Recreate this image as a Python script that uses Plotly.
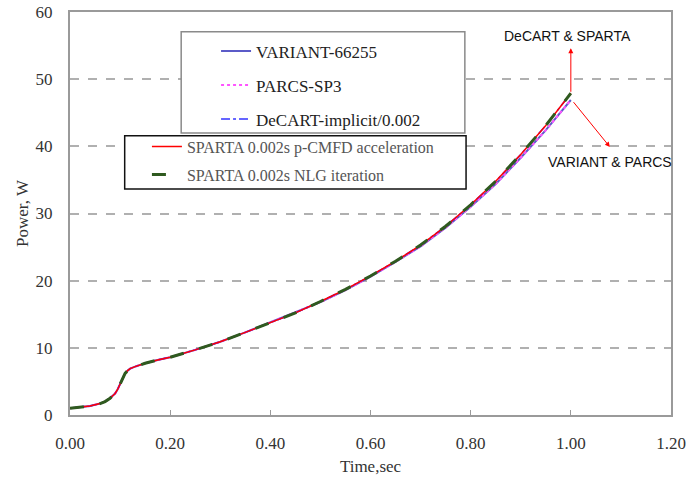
import plotly.graph_objects as go

time_s = [0, 0.02, 0.04, 0.06, 0.07, 0.08, 0.09, 0.095, 0.10, 0.105, 0.11, 0.115,
          0.12, 0.13, 0.15, 0.175, 0.2, 0.25, 0.3, 0.35, 0.4, 0.45, 0.5, 0.55,
          0.6, 0.65, 0.7, 0.75, 0.8, 0.85, 0.9, 0.95, 1.0]

variant = [1.0, 1.15, 1.35, 1.7, 2.0, 2.5, 3.2, 3.8, 4.6, 5.5, 6.2, 6.6,
           6.9, 7.2, 7.7, 8.2, 8.6, 9.7, 10.9, 12.3, 13.8, 15.2, 16.8, 18.6,
           20.6, 22.8, 25.1, 27.9, 31.0, 34.4, 38.3, 42.4, 46.9]
parcs = [1.0, 1.15, 1.35, 1.7, 2.0, 2.5, 3.2, 3.8, 4.6, 5.5, 6.2, 6.6,
         6.9, 7.2, 7.7, 8.2, 8.6, 9.7, 10.9, 12.3, 13.8, 15.2, 16.8, 18.6,
         20.6, 22.8, 25.1, 27.9, 31.0, 34.4, 38.3, 42.4, 46.9]
decart = [1.0, 1.15, 1.35, 1.7, 2.0, 2.5, 3.2, 3.8, 4.6, 5.5, 6.2, 6.6,
          6.9, 7.2, 7.7, 8.2, 8.6, 9.7, 10.9, 12.3, 13.8, 15.2, 16.9, 18.7,
          20.7, 22.9, 25.3, 28.1, 31.3, 34.8, 38.8, 43.1, 47.9]
sparta_cmfd = [1.0, 1.15, 1.35, 1.7, 2.0, 2.5, 3.2, 3.8, 4.6, 5.5, 6.2, 6.6,
               6.9, 7.2, 7.7, 8.2, 8.6, 9.7, 10.9, 12.3, 13.8, 15.2, 16.9, 18.7,
               20.7, 22.9, 25.3, 28.1, 31.3, 34.8, 38.8, 43.1, 47.9]
sparta_nlg = [1.0, 1.15, 1.35, 1.7, 2.0, 2.5, 3.2, 3.8, 4.6, 5.5, 6.2, 6.6,
              6.9, 7.2, 7.7, 8.2, 8.6, 9.7, 10.9, 12.3, 13.8, 15.2, 16.9, 18.7,
              20.7, 22.9, 25.3, 28.1, 31.3, 34.8, 38.8, 43.1, 47.9]

x_ticks = [0, 0.2, 0.4, 0.6, 0.8, 1.0, 1.2]
x_tick_labels = ["0.00", "0.20", "0.40", "0.60", "0.80", "1.00", "1.20"]
y_ticks = [0, 10, 20, 30, 40, 50, 60]

SERIF = "Liberation Serif, Times New Roman, serif"
SANS = "Liberation Sans, Arial, sans-serif"

fig = go.Figure()
fig.add_trace(go.Scatter(x=time_s, y=variant, mode="lines", name="VARIANT-66255",
                         line=dict(color="#5b5bc8", width=2), legend="legend",
                         legendgroup="a", legendrank=1))
fig.add_trace(go.Scatter(x=time_s, y=parcs, mode="lines", name="PARCS-SP3",
                         line=dict(color="#ff55ff", width=2, dash="dot"), legend="legend",
                         legendgroup="b", legendrank=2))
fig.add_trace(go.Scatter(x=time_s, y=decart, mode="lines", name="DeCART-implicit/0.002",
                         line=dict(color="#3333ff", width=1.5, dash="dashdot"), legend="legend",
                         legendgroup="c", legendrank=3))
fig.add_trace(go.Scatter(x=time_s, y=sparta_cmfd, mode="lines",
                         name="SPARTA 0.002s p-CMFD acceleration",
                         line=dict(color="#ff0000", width=1.5), legend="legend2",
                         legendgroup="d", legendrank=4))
fig.add_trace(go.Scatter(x=time_s, y=sparta_nlg, mode="lines",
                         name="SPARTA 0.002s NLG iteration",
                         line=dict(color="#2f5a1f", width=3, dash="14px,16px"), legend="legend2",
                         legendgroup="e", legendrank=5))

# legend boxes
fig.add_shape(type="rect", xref="paper", yref="paper", x0=0.185, x1=0.657, y0=0.700, y1=0.951,
              line=dict(color="#8a8a8a", width=1.5), fillcolor="white", layer="above")
fig.add_shape(type="rect", xref="paper", yref="paper", x0=0.091, x1=0.659, y0=0.561, y1=0.693,
              line=dict(color="#111111", width=1.5), fillcolor="white", layer="above")

# arrows
fig.add_annotation(x=1.0, y=54.6, ax=1.0, ay=47.9, axref="x", ayref="y", xref="x", yref="y",
                   text="", showarrow=True, arrowhead=2, arrowsize=1, arrowwidth=1,
                   arrowcolor="#ff0000", standoff=0, startstandoff=0)
fig.add_annotation(x=1.078, y=39.9, ax=1.003, ay=46.8, axref="x", ayref="y", xref="x", yref="y",
                   text="", showarrow=True, arrowhead=2, arrowsize=1, arrowwidth=1,
                   arrowcolor="#ff0000", standoff=0, startstandoff=0)
fig.add_annotation(x=0.994, y=56.5, xref="x", yref="y", text="DeCART &amp; SPARTA",
                   showarrow=False, font=dict(family=SANS, size=14, color="#111111"))
fig.add_annotation(x=1.078, y=37.6, xref="x", yref="y", text="VARIANT &amp; PARCS",
                   showarrow=False, font=dict(family=SANS, size=14, color="#111111"))

fig.update_layout(
    width=700, height=482,
    margin=dict(l=70, r=29, t=12, b=67, autoexpand=False),
    paper_bgcolor="white", plot_bgcolor="white",
    font=dict(family=SERIF, size=17, color="#333333"),
    showlegend=True,
    legend=dict(x=0.243, y=0.947, xanchor="left", yanchor="top", bgcolor="rgba(0,0,0,0)",
                borderwidth=0, font=dict(family=SERIF, size=17, color="#222222"),
                tracegroupgap=9, itemwidth=30),
    legend2=dict(x=0.128, y=0.708, xanchor="left", yanchor="top", bgcolor="rgba(0,0,0,0)",
                 borderwidth=0, font=dict(family=SERIF, size=16, color="#555555"),
                 tracegroupgap=4, itemwidth=30),
    xaxis=dict(range=[0, 1.2], tickvals=x_ticks, ticktext=x_tick_labels, automargin=False,
               showgrid=False, zeroline=False, showline=True, linecolor="#9a9a9a",
               linewidth=2, mirror=True, ticks="inside", ticklen=5, tickcolor="#9a9a9a",
               ticklabelstandoff=12, ticklabeloverflow="allow",
               tickfont=dict(family=SERIF, size=17, color="#333333"),
               title=dict(text="Time,sec", standoff=8,
                          font=dict(family=SERIF, size=17, color="#333333"))),
    yaxis=dict(range=[0, 60], tickvals=y_ticks, showgrid=True, gridcolor="#b0b0b0",
               gridwidth=1.5, griddash="dash", zeroline=False, showline=True, automargin=False,
               linecolor="#9a9a9a", linewidth=2, mirror=True, ticks="",
               ticklabelstandoff=12, ticklabeloverflow="allow",
               tickfont=dict(family=SERIF, size=17, color="#333333"),
               title=dict(text="Power, W", standoff=3,
                          font=dict(family=SERIF, size=17, color="#333333"))),
)

fig.write_html("out.html", config={"displayModeBar": False},
               post_script="document.body.style.margin='0';document.body.style.overflow='hidden';")
